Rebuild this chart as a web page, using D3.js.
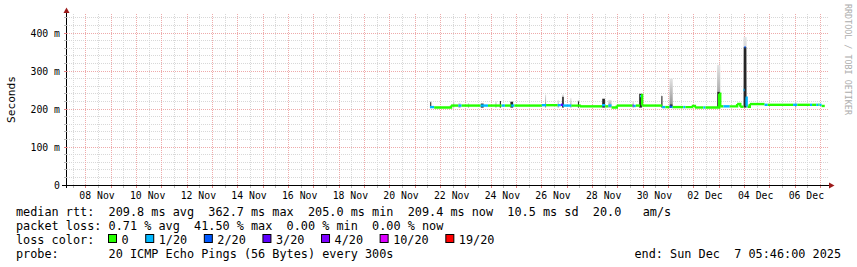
<!DOCTYPE html>
<html>
<head>
<meta charset="utf-8">
<script src="https://cdn.jsdelivr.net/npm/d3@7"></script>
<style>
  html, body { margin: 0; padding: 0; background: #fff; }
  svg { display: block; }
  text { font-family: "DejaVu Sans Mono", monospace; }
</style>
</head>
<body>
<svg width="857" height="267"></svg>
<script>
  const parse = d3.timeParse("%Y-%m-%dT%H:%M");

  // time window of the graph (30 days)
  const rangeStart = "2025-11-07T05:46";
  const rangeEnd = "2025-12-07T05:46";

  // axis labels
  const yTicks = [0, 100, 200, 300, 400];
  const yTickLabels = ["0", "100 m", "200 m", "300 m", "400 m"];
  const xTickDays = ["2025-11-08", "2025-11-10", "2025-11-12", "2025-11-14", "2025-11-16",
    "2025-11-18", "2025-11-20", "2025-11-22", "2025-11-24", "2025-11-26", "2025-11-28",
    "2025-11-30", "2025-12-02", "2025-12-04", "2025-12-06"];
  const xTickLabels = ["08 Nov", "10 Nov", "12 Nov", "14 Nov", "16 Nov", "18 Nov", "20 Nov",
    "22 Nov", "24 Nov", "26 Nov", "28 Nov", "30 Nov", "02 Dec", "04 Dec", "06 Dec"];

  // loss colours (smokeping defaults)
  const lossLabels = ["0", "1/20", "2/20", "3/20", "4/20", "10/20", "19/20"];
  const lossColors = ["#26ff00", "#00b8ff", "#0059ff", "#5e00ff", "#7e00ff", "#dd00ff", "#ff0000"];

  // median rtt: [time, ms, loss colour index] - step changes, last row = end of data
  const medianRtt = [
    ["2025-11-21T14:00", 205, 1],
    ["2025-11-21T18:00", 204, 0],
    ["2025-11-22T10:00", 209, 0],
    ["2025-11-22T17:00", 209, 1],
    ["2025-11-22T20:00", 209, 0],
    ["2025-11-23T14:00", 209, 1],
    ["2025-11-23T21:00", 209, 0],
    ["2025-11-24T10:00", 209, 1],
    ["2025-11-24T13:00", 209, 0],
    ["2025-11-24T19:00", 209, 1],
    ["2025-11-24T22:00", 209, 0],
    ["2025-11-26T00:00", 210, 1],
    ["2025-11-26T04:00", 210, 0],
    ["2025-11-26T15:00", 210, 1],
    ["2025-11-26T18:00", 211, 3],
    ["2025-11-26T20:00", 209, 1],
    ["2025-11-27T04:00", 209, 0],
    ["2025-11-27T12:00", 207, 0],
    ["2025-11-28T09:00", 210, 1],
    ["2025-11-28T12:00", 207, 0],
    ["2025-11-28T15:00", 209, 1],
    ["2025-11-28T18:00", 204, 0],
    ["2025-11-28T23:00", 209, 0],
    ["2025-11-29T14:00", 209, 3],
    ["2025-11-29T15:00", 208, 1],
    ["2025-11-29T17:00", 209, 0],
    ["2025-11-29T21:00", 234, 1],
    ["2025-11-29T22:00", 237, 0],
    ["2025-11-29T23:00", 209, 0],
    ["2025-11-30T18:00", 205, 1],
    ["2025-11-30T21:00", 205, 0],
    ["2025-12-01T01:00", 206, 2],
    ["2025-12-01T03:00", 205, 1],
    ["2025-12-01T04:00", 205, 0],
    ["2025-12-01T14:00", 205, 1],
    ["2025-12-01T16:00", 205, 0],
    ["2025-12-01T22:00", 208, 0],
    ["2025-12-02T01:00", 204, 0],
    ["2025-12-02T09:00", 204, 1],
    ["2025-12-02T11:00", 204, 0],
    ["2025-12-03T00:00", 240, 0],
    ["2025-12-03T01:00", 207, 0],
    ["2025-12-03T04:00", 207, 1],
    ["2025-12-03T10:00", 207, 0],
    ["2025-12-03T17:00", 213, 0],
    ["2025-12-03T20:00", 206, 0],
    ["2025-12-03T23:00", 250, 1],
    ["2025-12-04T00:00", 362.7, 2],
    ["2025-12-04T01:00", 230, 1],
    ["2025-12-04T02:00", 207, 1],
    ["2025-12-04T03:00", 206, 0],
    ["2025-12-04T05:00", 213, 0],
    ["2025-12-04T19:00", 211, 1],
    ["2025-12-04T22:00", 211, 0],
    ["2025-12-05T22:00", 211, 1],
    ["2025-12-06T02:00", 211, 0],
    ["2025-12-06T14:00", 211, 1],
    ["2025-12-06T16:00", 211, 0],
    ["2025-12-06T20:00", 211, 1],
    ["2025-12-06T22:00", 211, 0],
    ["2025-12-06T23:00", 211, 1],
    ["2025-12-07T01:00", 208, 0],
    ["2025-12-07T04:00", 208, 0]
  ];

  // smoke spikes: start time, hours wide, top of dense (dark) part, top of light part (ms)
  const smokeTimes = ["2025-11-21T14:00", "2025-11-22T12:00", "2025-11-22T17:00", "2025-11-23T02:00",
    "2025-11-23T14:00", "2025-11-24T04:00", "2025-11-24T08:00", "2025-11-24T18:00", "2025-11-26T03:00",
    "2025-11-26T15:00", "2025-11-26T19:00", "2025-11-27T03:00", "2025-11-27T10:00", "2025-11-28T09:00",
    "2025-11-28T15:00", "2025-11-29T14:00", "2025-11-29T20:00", "2025-11-30T17:00", "2025-12-01T01:00",
    "2025-12-02T22:00", "2025-12-03T23:00", "2025-12-06T00:00"];
  const smokeHours = [1, 1, 2, 1, 3, 1, 1, 3, 1, 1, 2, 1, 1, 3, 3, 1, 3, 1, 3, 3, 3, 1];
  const smokeDark = [218, null, null, null, 214, null, 221, 219, null, null, 232, null, 220, 227,
    null, null, 240, 234, 212, 245, 363, null];
  const smokeLight = [221, 221, 216, 216, 216, 221, 221, 221, 238, 224, 238, 229, 224, 227,
    224, 221, 240, 237, 280, 316, 389, 221];

  const legendRtt = ["209.8 ms avg", "362.7 ms max", "205.0 ms min", "209.4 ms now", "10.5 ms sd", "20.0   am/s"];
  const legendLoss = ["0.71 % avg", "41.50 % max", "0.00 % min", "0.00 % now"];
  const probeText = "20 ICMP Echo Pings (56 Bytes) every 300s";
  const endText = "end: Sun Dec  7 05:46:00 2025";

  const svg = d3.select("svg");
  const plotLeft = 67, plotRight = 828, plotTop = 14, plotBottom = 185;
  const nb = s => s.replace(/ /g, "\u00a0");

  const x = d3.scaleTime().domain([parse(rangeStart), parse(rangeEnd)]).range([66.6, 826.6]);
  const y = d3.scaleLinear().domain([0, 450]).range([plotBottom, plotTop]);
  const crisp = v => Math.floor(v) + 0.5;

  // grid
  const grid = svg.append("g");
  const hLines = d3.range(20, 441, 20);
  grid.selectAll(".hg").data(hLines).join("line")
    .attr("x1", plotLeft).attr("x2", plotRight)
    .attr("y1", d => crisp(y(d))).attr("y2", d => crisp(y(d)))
    .attr("stroke", d => d % 100 === 0 ? "#eeaaaa" : "#d8d8d8")
    .attr("stroke-dasharray", "1,1");
  const vTimes = d3.timeHour.every(12).range(parse(rangeStart), parse(rangeEnd));
  grid.selectAll(".vg").data(vTimes).join("line")
    .attr("x1", d => crisp(x(d))).attr("x2", d => crisp(x(d)))
    .attr("y1", plotTop).attr("y2", plotBottom)
    .attr("stroke", d => d.getHours() === 0 ? "#eeaaaa" : "#d8d8d8")
    .attr("stroke-dasharray", "1,1");

  // smoke
  const defs = svg.append("defs");
  const grad = defs.append("linearGradient").attr("id", "smoke").attr("x1", 0).attr("y1", 0).attr("x2", 0).attr("y2", 1);
  grad.append("stop").attr("offset", "0%").attr("stop-color", "#e4e4e4");
  grad.append("stop").attr("offset", "100%").attr("stop-color", "#8c8c8c");

  const smoke = smokeTimes.map((t, i) => ({ t: parse(t), h: smokeHours[i], dark: smokeDark[i], light: smokeLight[i] }));
  const smokeG = svg.append("g");
  smokeG.selectAll(".sl").data(smoke).join("rect")
    .attr("x", d => x(d.t))
    .attr("width", d => x(d3.timeHour.offset(d.t, d.h)) - x(d.t))
    .attr("y", d => y(d.light))
    .attr("height", d => y(204) - y(d.light))
    .attr("fill", "url(#smoke)");
  smokeG.selectAll(".sd").data(smoke.filter(d => d.dark !== null)).join("rect")
    .attr("x", d => x(d.t) + 0.3)
    .attr("width", d => Math.max(1, x(d3.timeHour.offset(d.t, d.h)) - x(d.t) - 0.6))
    .attr("y", d => y(d.dark))
    .attr("height", d => y(204) - y(d.dark))
    .attr("fill", "#262626");

  // median line coloured by loss (vertical joins only inside one colour)
  const line = d3.line().x(d => x(d[0])).y(d => y(d[1]));
  const segs = [];
  for (let i = 0; i < medianRtt.length - 1; i++) {
    const t0 = parse(medianRtt[i][0]), t1 = parse(medianRtt[i + 1][0]);
    const pts = [[t0, medianRtt[i][1]], [t1, medianRtt[i][1]]];
    if (medianRtt[i + 1][2] === medianRtt[i][2]) pts.push([t1, medianRtt[i + 1][1]]);
    segs.push({ pts: pts, loss: medianRtt[i][2] });
  }
  svg.append("g").selectAll("path").data(segs).join("path")
    .attr("d", d => line(d.pts))
    .attr("fill", "none")
    .attr("stroke", d => lossColors[d.loss])
    .attr("stroke-width", 2.4);

  // axes
  const axis = svg.append("g");
  axis.append("line").attr("x1", 62).attr("x2", 830).attr("y1", plotBottom + 0.5).attr("y2", plotBottom + 0.5)
    .attr("stroke", "#000");
  axis.append("line").attr("x1", plotLeft - 0.5).attr("x2", plotLeft - 0.5).attr("y1", plotBottom + 3).attr("y2", 11)
    .attr("stroke", "#000");
  axis.selectAll(".yt").data(hLines).join("line")
    .attr("x1", plotLeft - 3).attr("x2", plotLeft)
    .attr("y1", d => crisp(y(d))).attr("y2", d => crisp(y(d)))
    .attr("stroke", d => d % 100 === 0 ? "#e08080" : "#b8b8b8");
  axis.selectAll(".xt").data(vTimes).join("line")
    .attr("x1", d => crisp(x(d))).attr("x2", d => crisp(x(d)))
    .attr("y1", plotBottom + 1).attr("y2", plotBottom + 3)
    .attr("stroke", d => d.getHours() === 0 ? "#e08080" : "#b8b8b8");

  // arrows
  svg.append("path").attr("d", "M66.5,7.5L63.5,13L69.5,13Z").attr("fill", "#9c1a1a");
  svg.append("path").attr("d", "M834.5,185.5L829,182.5L829,188.5Z").attr("fill", "#9c1a1a");

  // tick labels
  svg.append("g").selectAll("text").data(yTicks).join("text")
    .attr("x", 60).attr("y", d => y(d) + 3.6)
    .attr("text-anchor", "end")
    .style("font-size", "9.8px")
    .text((d, i) => nb(yTickLabels[i]));
  svg.append("g").selectAll("text").data(xTickDays).join("text")
    .attr("x", d => x(d3.timeHour.offset(parse(d + "T00:00"), 12)) - 1.5)
    .attr("y", 198.5)
    .attr("text-anchor", "middle")
    .style("font-size", "9.8px")
    .text((d, i) => nb(xTickLabels[i]));

  svg.append("text")
    .attr("transform", "translate(15,99.5) rotate(-90)")
    .attr("text-anchor", "middle")
    .style("font-size", "11.2px")
    .text("Seconds");

  svg.append("text")
    .attr("transform", "translate(844.5,4) rotate(90)")
    .style("font-size", "8.4px")
    .attr("fill", "#adadad")
    .text(nb("RRDTOOL / TOBI OETIKER"));

  // legend
  const leg = svg.append("g").style("font-size", "11.84px");
  leg.append("text").attr("x", 16).attr("y", 215.5).text(nb("median rtt:  " + legendRtt.join("  ")));
  leg.append("text").attr("x", 16).attr("y", 229.5).text(nb("packet loss: " + legendLoss.join("  ")));
  leg.append("text").attr("x", 16).attr("y", 243.5).text(nb("loss color:"));
  leg.append("text").attr("x", 16).attr("y", 257.5).text(nb("probe:       " + probeText));
  leg.append("text").attr("x", 841).attr("y", 257.5).attr("text-anchor", "end").text(nb(endText));

  let lx = 108;
  lossLabels.forEach((lab, i) => {
    leg.append("rect").attr("x", lx + 0.5).attr("y", 234.5).attr("width", 8).attr("height", 8)
      .attr("fill", lossColors[i]).attr("stroke", "#000");
    const t = leg.append("text").attr("x", lx + 13.5).attr("y", 243.5).text(lab);
    lx = lx + 13.5 + t.node().getComputedTextLength() + 16.6;
  });
</script>
</body>
</html>
